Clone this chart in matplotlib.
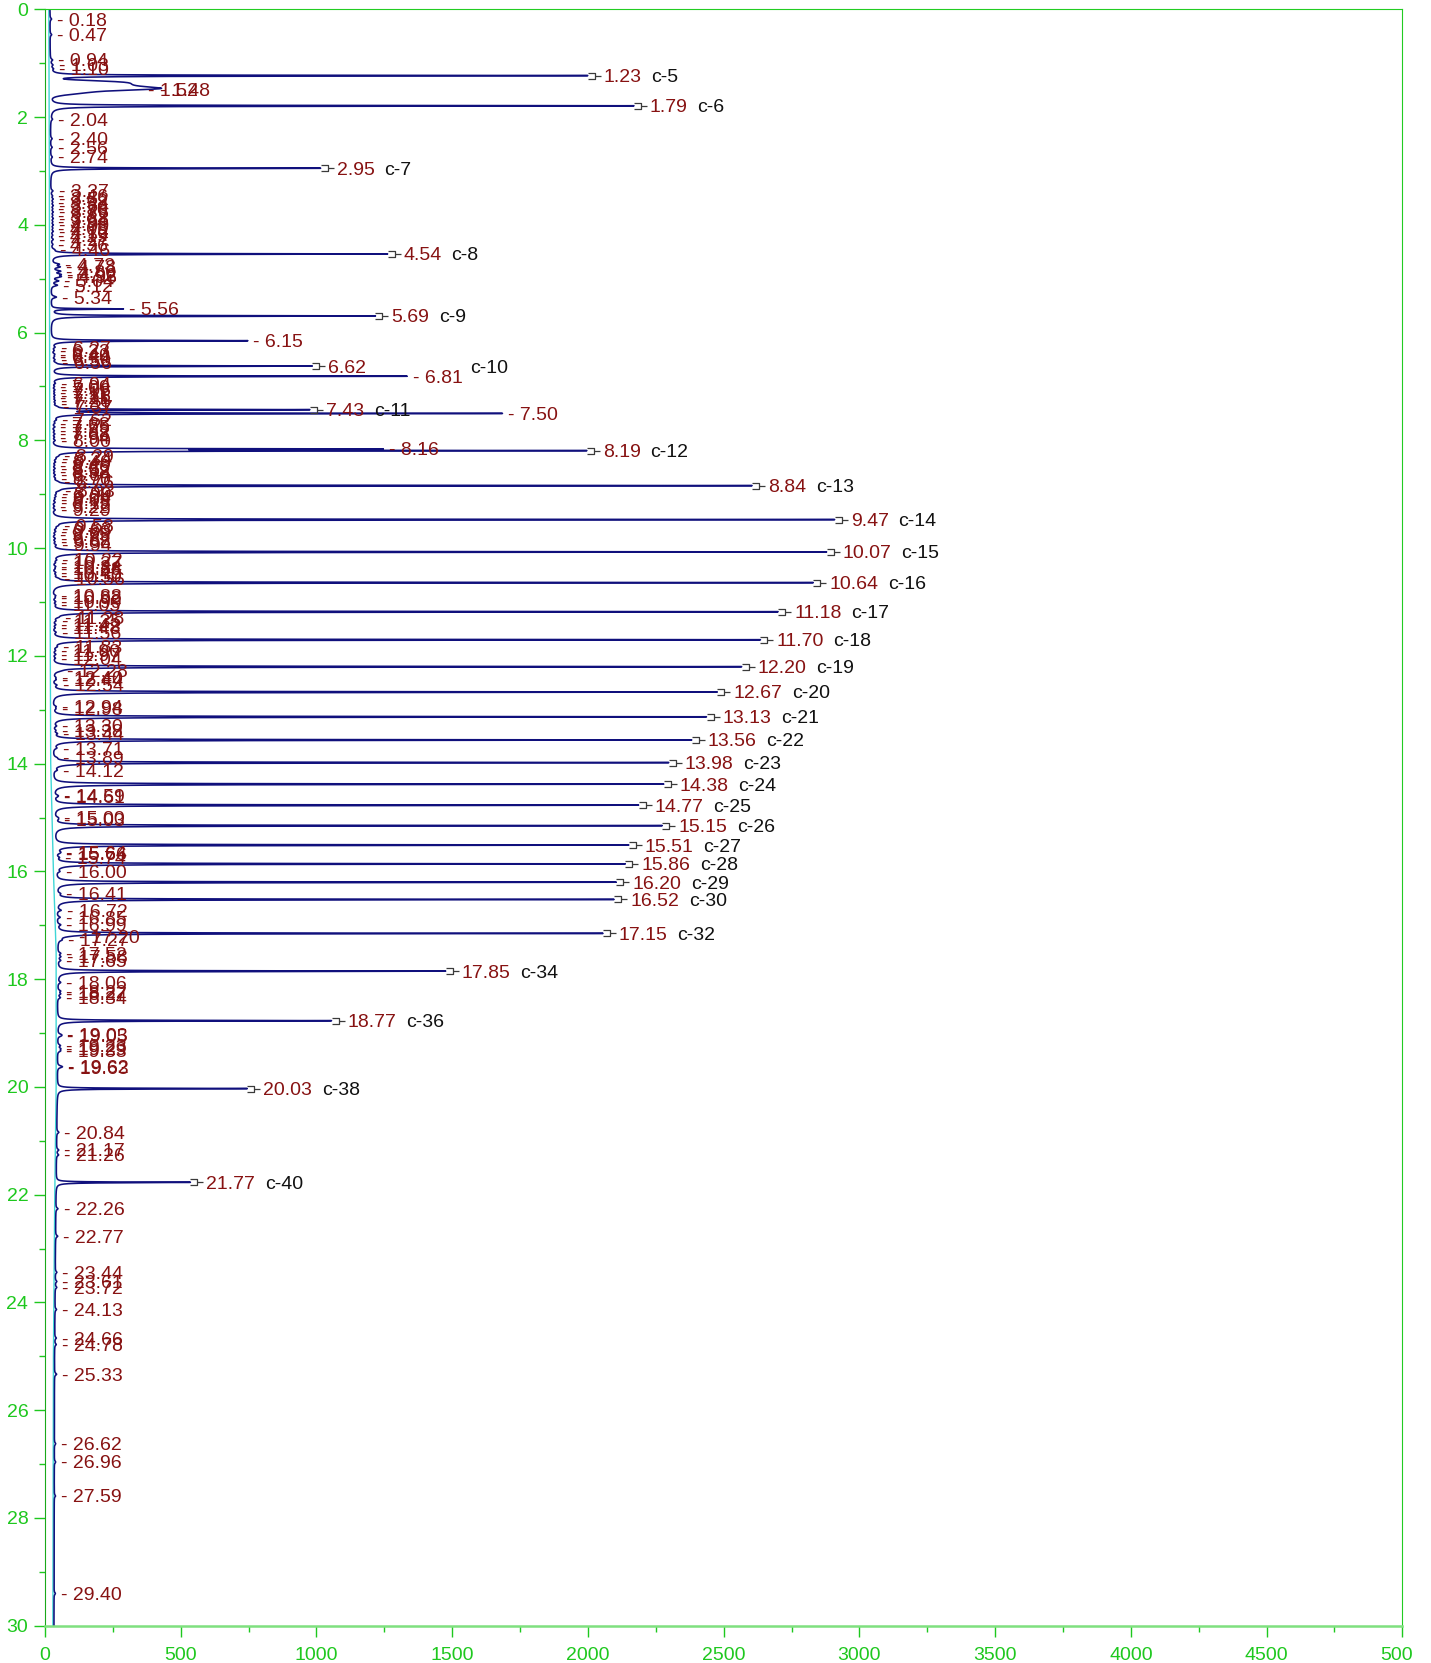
import numpy as np
import matplotlib
matplotlib.use("Agg")
import matplotlib.pyplot as plt
from matplotlib.path import Path
from matplotlib.ticker import MultipleLocator
from matplotlib.transforms import Bbox

plt.rcParams['font.family'] = ['Liberation Sans', 'DejaVu Sans']

# named peaks: retention time (min), apex response, compound
named_rt = [1.23, 1.79, 2.95, 4.54, 5.69, 6.62, 7.43, 8.19, 8.84, 9.47, 10.07,
            10.64, 11.18, 11.70, 12.20, 12.67, 13.13, 13.56, 13.98, 14.38, 14.77,
            15.15, 15.51, 15.86, 16.20, 16.52, 17.15, 17.85, 18.77, 20.03, 21.77]
named_h = [1980, 2150, 995, 1240, 1195, 960, 940, 1900, 2580, 2885, 2855,
           2805, 2675, 2610, 2540, 2450, 2410, 2355, 2270, 2250, 2155,
           2240, 2115, 2100, 2065, 2055, 2010, 1430, 1010, 700, 495]
named_id = ['c-5', 'c-6', 'c-7', 'c-8', 'c-9', 'c-10', 'c-11', 'c-12', 'c-13', 'c-14', 'c-15',
            'c-16', 'c-17', 'c-18', 'c-19', 'c-20', 'c-21', 'c-22', 'c-23', 'c-24', 'c-25',
            'c-26', 'c-27', 'c-28', 'c-29', 'c-30', 'c-32', 'c-34', 'c-36', 'c-38', 'c-40']
# extra gap before the name (pushed past a neighbour label)
name_shift = {'c-10': 68}

# unnamed peaks that rise clear of the baseline (w > 0.02 -> broad gaussian)
tall_rt = [1.48, 1.52, 5.56, 6.15, 6.81, 7.50, 8.16]
tall_h = [150, 150, 265, 725, 1310, 1650, 1150]
tall_w = [0.025, 0.05, 0.006, 0.007, 0.006, 0.006, 0.006]
# labels that sit away from their own apex
label_at = {1.52: 1.49}

# flat-topped unlabelled front of the 1.48 group
hump_rt = [1.40]
hump_h = [290]
hump_w = [0.07]

# small integrated peaks near the baseline
small_rt = [
    0.18, 0.47, 0.94, 1.03, 1.10,
    2.04, 2.40, 2.56, 2.74,
    3.37, 3.46, 3.52, 3.58, 3.64, 3.70, 3.76, 3.82, 3.88, 3.94, 4.00, 4.06, 4.12, 4.19, 4.27, 4.36, 4.46,
    4.73, 4.78, 4.86, 4.92, 4.96, 5.04, 5.12, 5.34,
    6.27, 6.33, 6.40, 6.44, 6.50, 6.56,
    6.94, 7.00, 7.06, 7.11, 7.16, 7.21, 7.26, 7.31, 7.37,
    7.62, 7.68, 7.75, 7.82, 7.88, 7.94, 8.00,
    8.29, 8.34, 8.40, 8.46, 8.52, 8.58, 8.64, 8.70, 8.76,
    8.93, 8.99, 9.04, 9.09, 9.15, 9.22, 9.29,
    9.58, 9.63, 9.69, 9.75, 9.82, 9.88, 9.94,
    10.22, 10.27, 10.34, 10.38, 10.45, 10.50, 10.56,
    10.88, 10.92, 10.99, 11.05,
    11.28, 11.35, 11.42, 11.48, 11.56,
    11.83, 11.90, 11.97, 12.04,
    12.28, 12.40, 12.44, 12.54,
    12.94, 12.98,
    13.30, 13.38, 13.44,
    13.71, 13.89, 14.12,
    14.59, 14.61, 15.00, 15.03,
    15.64, 15.66, 15.74, 16.00, 16.41,
    16.72, 16.85, 16.99,
    17.20, 17.27, 17.52, 17.58, 17.65,
    18.06, 18.22, 18.27, 18.34,
    19.03, 19.05, 19.23, 19.29, 19.33, 19.62, 19.63,
    20.84, 21.17, 21.26,
    22.26, 22.77, 23.44, 23.61, 23.72, 24.13, 24.66, 24.78, 25.33,
    26.62, 26.96, 27.59, 29.40,
]
small_h = [
    6, 6, 8, 8, 8,
    6, 6, 6, 6,
    8, 6, 8, 6, 8, 6, 8, 6, 8, 6, 8, 6, 8, 6, 8, 6, 8,
    25, 28, 30, 28, 30, 25, 22, 20,
    10, 8, 10, 8, 10, 8,
    10, 8, 10, 8, 10, 8, 10, 8, 10,
    10, 8, 10, 8, 10, 8, 10,
    10, 8, 10, 8, 10, 8, 10, 8, 10,
    10, 8, 10, 8, 10, 8, 10,
    10, 8, 10, 8, 10, 8, 10,
    10, 8, 10, 8, 10, 8, 10,
    10, 8, 10, 8,
    10, 8, 10, 8, 10,
    10, 8, 10, 8,
    10, 8, 10, 12,
    10, 8,
    10, 8, 12,
    10, 8, 10,
    10, 8, 10, 8,
    10, 8, 10, 10, 10,
    15, 12, 12,
    10, 10, 10, 10, 10,
    10, 10, 10, 10,
    10, 10, 10, 10, 10, 10, 10,
    8, 8, 8,
    8, 8, 6, 6, 6, 6, 6, 6, 8,
    5, 5, 5, 5,
]
assert len(small_rt) == len(small_h)

# baseline drift
base_t = [0, 3, 10, 14, 16, 17.5, 20, 22, 25, 30]
base_v = [18, 20, 22, 25, 35, 45, 45, 40, 35, 33]

GREEN = '#1ec81e'
RED = '#871212'
TRACE = '#10107c'
FS = 14


def peak(t, t0, h, gl, gr):
    g = np.where(t < t0, gl, gr)
    return h * g ** 2 / ((t - t0) ** 2 + g ** 2)


def broad(t, t0, h, s):
    return h * np.exp(-0.5 * ((t - t0) / s) ** 2)


def flat(t, t0, h, s):
    return h * np.exp(-0.5 * ((t - t0) / s) ** 4)


t = np.arange(0, 30.0005, 0.001)
sig = np.interp(t, base_t, base_v)
for rt, h in zip(named_rt, named_h):
    sig += peak(t, rt, h, 0.006, 0.008)
for rt, h, w in zip(tall_rt, tall_h, tall_w):
    if w > 0.02:
        sig += broad(t, rt, h, w)
    else:
        sig += peak(t, rt, h, w, w * 1.3)
for rt, h, w in zip(hump_rt, hump_h, hump_w):
    sig += flat(t, rt, h, w)
for rt, h in zip(small_rt, small_h):
    sig += peak(t, rt, h, 0.02, 0.02)

fig = plt.figure(figsize=(14.31, 16.63), dpi=100)
ax = fig.add_axes([0.03145, 0.0224, 0.9485, 0.972])

ax.plot(np.array(base_v) - 4, base_t, color='#3fd6d6', lw=1.0, zorder=1)
ax.plot(sig, t, color=TRACE, lw=1.15, zorder=2)

ax.set_xlim(0, 5000)
ax.set_ylim(30, 0)

# little "]-" flag at the apex of the named peaks
bracket = Path([(0, 0.2), (0.5, 0.2), (0.5, -0.2), (0, -0.2), (0.5, 0), (1, 0)],
               [Path.MOVETO, Path.LINETO, Path.LINETO, Path.LINETO, Path.MOVETO, Path.LINETO])

for rt, name in zip(named_rt, named_id):
    xa = np.interp(rt, t, sig)
    ax.plot(xa, rt, marker=bracket, ms=19, mfc='none', mec='#3a3a3a', mew=0.9, zorder=3)
    num = ax.annotate(f'{rt:.2f}', xy=(xa, rt), xytext=(11.5, 0), textcoords='offset points',
                      ha='left', va='center_baseline', color=RED, fontsize=FS, zorder=4)
    ax.annotate(name, xy=(1, 0.5), xycoords=num, xytext=(7 + name_shift.get(name, 0), 0),
                textcoords='offset points', ha='left', va='center', color='#111111',
                fontsize=FS, zorder=4)

for rt in tall_rt + small_rt:
    ty = label_at.get(rt, rt)
    xa = np.interp(ty, t, sig)
    ax.annotate(f'- {rt:.2f}', xy=(xa, ty), xytext=(4, 0), textcoords='offset points',
                ha='left', va='center_baseline', color=RED, fontsize=FS, zorder=4)

ax.xaxis.set_major_locator(MultipleLocator(500))
ax.xaxis.set_minor_locator(MultipleLocator(250))
ax.yaxis.set_major_locator(MultipleLocator(2))
ax.yaxis.set_minor_locator(MultipleLocator(1))
ax.tick_params(which='both', direction='out', color=GREEN, labelcolor=GREEN, labelsize=14, width=1)
ax.tick_params(which='major', length=8)
ax.tick_params(which='minor', length=4.5)
ax.tick_params(axis='x', pad=7)
ax.tick_params(axis='y', pad=4)

ax.spines['left'].set_color('#1aa81a')
ax.spines['top'].set_color('#22cc22')
ax.spines['right'].set_color('#22cc22')
ax.spines['bottom'].set_color('#7fe07f')
ax.spines['bottom'].set_linewidth(1.8)

# the 5000 label runs off the canvas in the original
for lab in ax.get_xticklabels():
    if lab.get_text() == '5000':
        lab.set_clip_box(Bbox.from_extents(0, 0, 1413, 1663))
        lab.set_clip_on(True)

fig.savefig('out.png', dpi=100)
